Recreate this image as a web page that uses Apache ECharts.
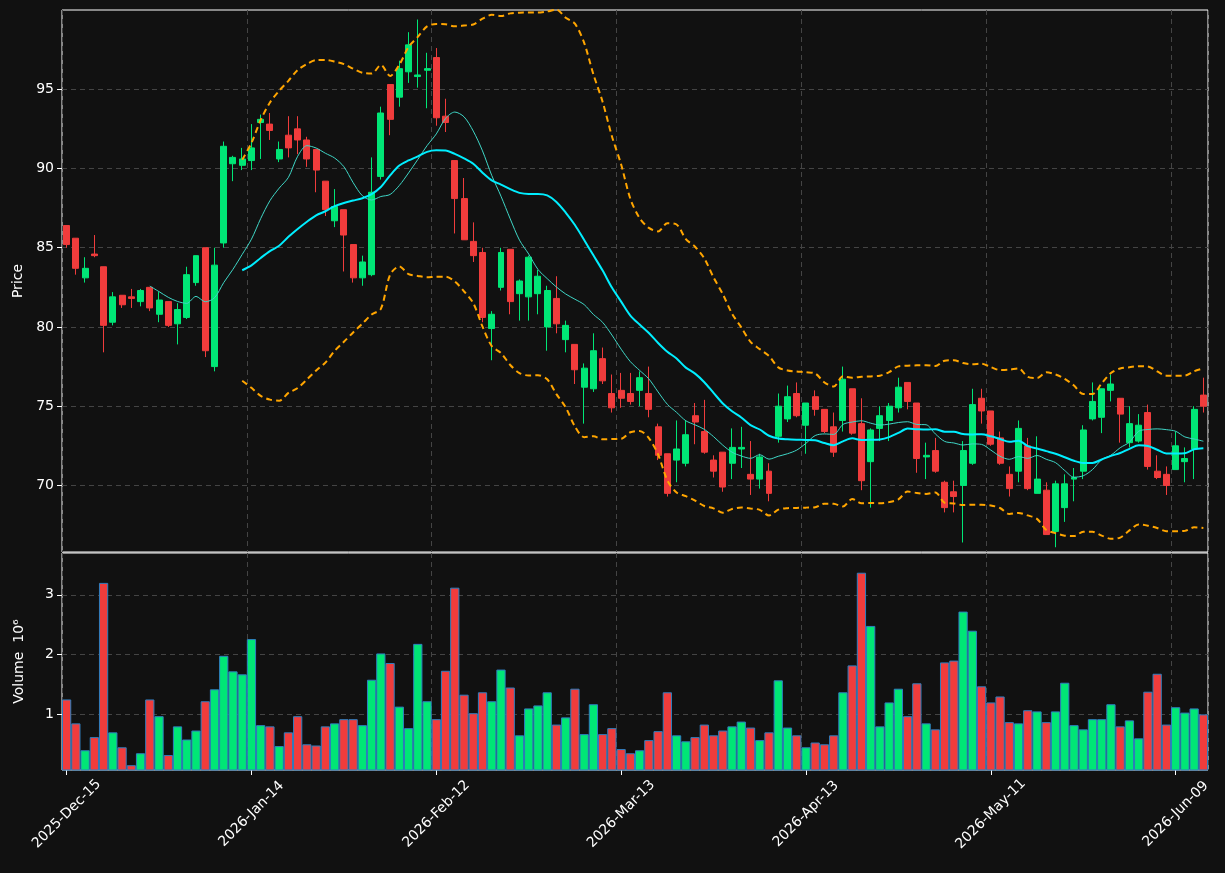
<!DOCTYPE html>
<html>
<head>
<meta charset="utf-8">
<title>Candles</title>
<script src="https://cdn.jsdelivr.net/npm/echarts@6/dist/echarts.min.js"></script>
<style>body{margin:0;background:#111111;}</style>
</head>
<body>
<div id="main" style="width:1225px;height:873px;"></div>
<script type="text/javascript">
// trading days from 2025-12-15, exchange holidays skipped
var startDate = '2025-12-15';
var dayCount = 124;
var holidays = ['2025-12-25', '2026-01-01', '2026-01-19', '2026-02-16', '2026-04-03', '2026-05-25'];
var monthNames = ['Jan','Feb','Mar','Apr','May','Jun','Jul','Aug','Sep','Oct','Nov','Dec'];

var opens  = [86.4,85.6,83.1,84.6,83.8,80.3,82.0,81.9,81.6,82.5, 80.8,81.6,80.2,80.6,82.8,85.0,77.5,85.3,90.3,90.2,
              90.5,92.9,92.8,90.6,92.1,92.5,91.8,91.2,89.2,86.7, 87.4,85.2,83.1,83.3,89.5,95.3,94.5,96.1,95.8,96.2,
              97.0,93.3,90.5,88.1,85.4,84.7,79.9,82.5,84.9,82.1, 81.9,82.1,80.0,81.8,79.2,78.9,76.2,76.1,78.0,75.8,
              76.0,75.8,76.0,75.8,73.7,72.0,71.6,71.4,74.4,73.4, 71.6,72.1,71.4,72.3,70.7,70.4,70.9,73.1,74.2,75.8,
              73.8,75.6,74.8,73.7,74.1,76.1,73.9,71.5,73.6,74.1, 74.9,76.5,75.2,71.8,72.2,70.2,69.6,70.0,71.4,75.5,
              74.7,73.0,70.7,70.9,72.5,69.5,69.7,67.1,68.6,70.4, 70.9,74.2,74.3,76.0,75.5,72.7,72.8,74.6,70.9,70.7,
              71.0,71.5,72.3,75.7];
var closes = [85.2,83.7,83.7,84.5,80.1,81.9,81.4,81.8,82.3,81.2, 81.7,80.1,81.1,83.3,84.5,78.5,83.9,91.4,90.7,90.6,
              91.3,93.1,92.4,91.2,91.3,91.8,90.6,89.9,87.4,87.6, 85.8,83.1,84.1,88.5,93.5,93.1,96.3,97.8,95.9,96.3,
              93.2,92.9,88.1,85.5,84.5,80.6,80.8,84.7,81.6,82.9, 84.4,83.2,82.3,80.2,80.1,77.3,77.4,78.5,76.6,74.9,
              75.5,75.3,76.8,74.8,71.9,69.5,72.3,73.2,74.0,72.1, 70.9,69.9,72.4,72.4,70.4,71.8,69.5,75.0,75.6,74.4,
              75.2,74.8,73.4,72.1,76.7,73.3,70.3,73.5,74.4,75.0, 76.2,75.3,71.7,71.9,70.9,68.6,69.3,72.2,75.1,74.7,
              72.6,71.4,69.8,73.6,69.8,70.4,66.9,70.1,70.1,70.5, 73.5,75.3,76.1,76.4,74.5,73.9,73.8,71.2,70.5,70.0,
              72.5,71.7,74.8,75.0];
var highs  = [86.4,85.6,84.4,85.8,83.8,82.2,82.0,82.4,82.4,82.5, 82.2,81.6,81.5,83.8,84.5,85.0,85.0,91.7,90.8,91.3,
              92.8,93.4,93.5,91.7,93.3,93.3,92.0,91.2,89.2,88.7, 87.4,85.2,84.5,90.7,93.9,95.3,96.8,98.6,99.4,97.3,
              97.6,94.4,90.5,89.4,86.6,85.0,81.0,85.0,84.9,83.0, 84.5,83.6,82.6,83.2,80.4,78.9,77.7,79.6,78.7,77.0,
              77.1,77.1,77.2,77.5,73.9,72.0,74.1,74.1,75.2,75.4, 71.9,72.1,73.6,73.7,72.8,72.0,71.4,75.8,76.3,76.5,
              75.2,76.0,74.8,74.6,77.5,76.1,75.5,73.6,75.0,75.2, 76.8,76.5,75.2,72.7,73.0,70.3,70.3,72.8,76.1,76.1,
              74.7,73.4,71.2,74.1,73.0,73.1,70.2,70.3,70.7,71.1, 73.8,76.5,76.1,77.0,75.5,75.0,74.5,75.1,71.9,71.2,
              73.4,72.4,75.0,76.8];
var lows   = [85.0,83.3,82.8,84.4,78.4,80.1,81.2,81.2,81.3,81.0, 80.3,80.0,78.9,80.5,82.6,78.1,77.2,85.0,89.2,89.9,
              89.9,90.6,91.8,90.4,90.7,90.9,90.1,88.5,87.0,86.3, 83.5,82.8,82.6,83.2,89.3,92.1,93.9,95.4,95.1,93.8,
              92.7,92.3,85.9,85.5,84.1,80.3,77.9,82.3,80.8,80.4, 80.4,80.8,78.5,79.6,78.4,76.4,73.9,75.9,76.4,74.6,
              74.9,75.1,75.0,74.3,71.6,69.3,70.2,71.2,72.6,72.0, 70.5,69.6,70.4,71.1,69.4,69.8,69.0,72.7,74.0,74.3,
              72.0,74.4,73.3,71.8,73.4,73.2,69.7,68.6,72.8,72.8, 74.6,74.8,70.8,70.4,70.8,68.3,68.3,66.4,71.3,73.9,
              72.5,71.3,69.3,70.2,69.7,69.5,66.9,66.1,67.7,69.0, 70.4,74.1,73.3,75.3,72.7,72.4,72.7,71.0,70.4,69.4,
              71.0,70.2,70.4,74.6];
var volumes = [1.25,0.85,0.40,0.62,3.20,0.70,0.45,0.15,0.35,1.25, 0.97,0.32,0.80,0.58,0.73,1.22,1.42,1.98,1.72,1.67,
               2.26,0.82,0.80,0.47,0.70,0.97,0.50,0.48,0.80,0.85, 0.92,0.92,0.82,1.58,2.02,1.86,1.13,0.77,2.18,1.22,
               0.92,1.73,3.12,1.33,1.02,1.37,1.22,1.75,1.45,0.65, 1.10,1.15,1.37,0.83,0.95,1.43,0.67,1.17,0.67,0.77,
               0.42,0.35,0.40,0.57,0.72,1.37,0.65,0.55,0.62,0.83, 0.65,0.73,0.80,0.88,0.78,0.57,0.70,1.57,0.78,0.65,
               0.45,0.53,0.50,0.65,1.37,1.82,3.37,2.48,0.80,1.20, 1.43,0.97,1.52,0.85,0.75,1.87,1.90,2.72,2.40,1.47,
               1.20,1.30,0.87,0.85,1.07,1.05,0.87,1.05,1.53,0.82, 0.75,0.92,0.92,1.17,0.80,0.90,0.60,1.38,1.68,0.83,
               1.12,1.03,1.10,1.00];
var priceTicks = [70, 75, 80, 85, 90, 95];
var volumeTicks = [1, 2, 3];

var upColor = '#00e676';
var downColor = '#f03c3c';

function pad(n){ return n < 10 ? '0' + n : '' + n; }
function buildDates(){
    var out = [];
    var d = new Date(startDate + 'T12:00:00Z');
    while (out.length < dayCount){
        var wd = d.getUTCDay();
        var iso = d.getUTCFullYear() + '-' + pad(d.getUTCMonth() + 1) + '-' + pad(d.getUTCDate());
        if (wd != 0 && wd != 6 && holidays.indexOf(iso) < 0){
            out.push(d.getUTCFullYear() + '-' + monthNames[d.getUTCMonth()] + '-' + pad(d.getUTCDate()));
        }
        d.setUTCDate(d.getUTCDate() + 1);
    }
    return out;
}
var dates = buildDates();

// rolling mean / bands from the closes
function rolling(n, k){
    var mid = [], up = [], lo = [];
    for (var i = 0; i < closes.length; i++){
        if (i < n - 1){ mid.push('-'); up.push('-'); lo.push('-'); continue; }
        var s = 0;
        for (var j = i - n + 1; j <= i; j++) s += closes[j];
        var m = s / n, v = 0;
        for (var j = i - n + 1; j <= i; j++) v += (closes[j] - m) * (closes[j] - m);
        var sd = Math.sqrt(v / n);
        mid.push(+m.toFixed(3)); up.push(+(m + k * sd).toFixed(3)); lo.push(+(m - k * sd).toFixed(3));
    }
    return {mid: mid, up: up, lo: lo};
}
var ma10 = rolling(10, 2).mid;
var boll = rolling(20, 2);

var candleData = [], volData = [];
for (var i = 0; i < opens.length; i++){
    candleData.push([opens[i], closes[i], lows[i], highs[i]]);
    volData.push({value: volumes[i], itemStyle: {color: closes[i] >= opens[i] ? upColor : downColor}});
}

var labelEvery = function(idx){ return idx % 20 === 0; };
var gridLine = {show: true, interval: labelEvery, lineStyle: {color: '#444', type: [5, 4], width: 1}};

var myChart = echarts.init(document.getElementById('main'));
var option = {
    backgroundColor: '#111111',
    animation: false,
    textStyle: {fontFamily: 'DejaVu Sans'},
    grid: [
        {left: 62, right: 17, top: 10, height: 542, show: true, borderColor: '#ffffff', borderWidth: 1},
        {left: 62, right: 17, top: 553, height: 217, show: true, borderColor: '#ffffff', borderWidth: 1}
    ],
    xAxis: [
        {type: 'category', gridIndex: 0, data: dates, boundaryGap: true,
         axisLine: {show: false}, axisTick: {show: false}, axisLabel: {show: false},
         splitLine: gridLine},
        {type: 'category', gridIndex: 1, data: dates, boundaryGap: true,
         axisLine: {show: false},
         axisTick: {show: true, interval: labelEvery, alignWithLabel: true, length: 5, lineStyle: {color: '#fff'}},
         axisLabel: {interval: labelEvery, rotate: 45, align: 'center', verticalAlign: 'middle',
                     color: '#ffffff', fontSize: 14, margin: 44},
         splitLine: gridLine}
    ],
    yAxis: [
        {type: 'value', gridIndex: 0, min: 65.8, max: 100, name: 'Price', nameLocation: 'middle', nameGap: 36,
         nameTextStyle: {color: '#fff', fontSize: 14},
         axisLine: {show: false},
         axisTick: {show: true, customValues: priceTicks, length: 5, lineStyle: {color: '#fff'}},
         axisLabel: {customValues: priceTicks, color: '#fff', fontSize: 14},
         splitLine: {show: true, lineStyle: {color: '#444', type: [5, 4]}}},
        {type: 'value', gridIndex: 1, min: 0.07, max: 3.7, name: 'Volume  10\u2076', nameLocation: 'middle', nameGap: 36,
         nameTextStyle: {color: '#fff', fontSize: 14},
         axisLine: {show: false},
         axisTick: {show: true, customValues: volumeTicks, length: 5, lineStyle: {color: '#fff'}},
         axisLabel: {customValues: volumeTicks, color: '#fff', fontSize: 14},
         splitLine: {show: true, lineStyle: {color: '#444', type: [5, 4]}}}
    ],
    series: [
        {name: 'Upper', type: 'line', data: boll.up, symbol: 'none', smooth: 0.3,
         lineStyle: {color: '#ffa500', width: 2, type: [6, 4]}},
        {name: 'Lower', type: 'line', data: boll.lo, symbol: 'none', smooth: 0.3,
         lineStyle: {color: '#ffa500', width: 2, type: [6, 4]}},
        {name: 'Candles', type: 'candlestick', data: candleData, barWidth: '70%',
         itemStyle: {color: upColor, color0: downColor, borderColor: upColor, borderColor0: downColor, borderWidth: 1}},
        {name: 'MA10', type: 'line', data: ma10, symbol: 'none', smooth: 0.3,
         lineStyle: {color: '#3fd6c6', width: 1}},
        {name: 'MA20', type: 'line', data: boll.mid, symbol: 'none', smooth: 0.3,
         lineStyle: {color: '#00eeff', width: 2}},
        {name: 'Volume', type: 'bar', xAxisIndex: 1, yAxisIndex: 1, data: volData, barWidth: '100%',
         itemStyle: {borderColor: '#2f7fc0', borderWidth: 1}}
    ]
};
myChart.setOption(option);
</script>
</body>
</html>
